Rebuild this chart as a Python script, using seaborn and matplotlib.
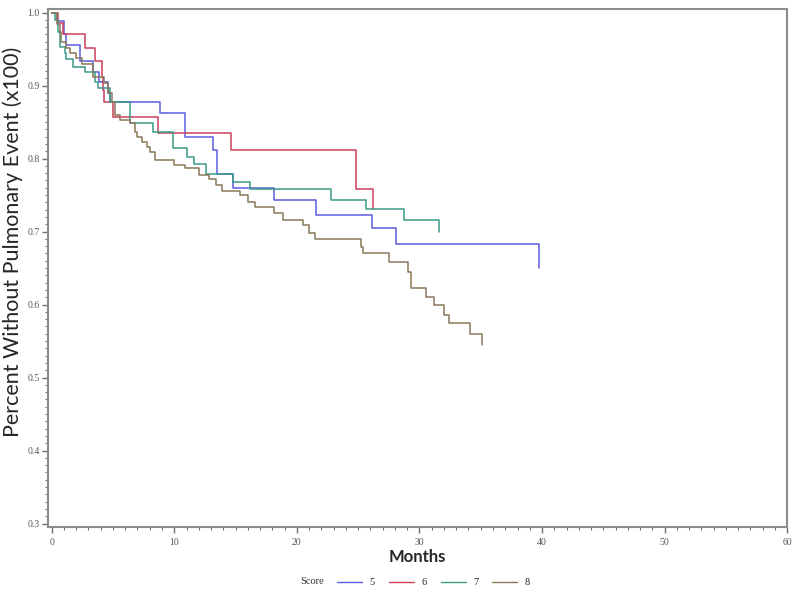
import numpy as np
import pandas as pd
import matplotlib
matplotlib.use('Agg')
import matplotlib.pyplot as plt
import seaborn as sns
from matplotlib.ticker import MultipleLocator
from matplotlib.lines import Line2D

# Kaplan-Meier style step curves
scores = ['5', '6', '7', '8']

t5 = [0, 0.4, 1.0, 1.2, 2.3, 3.4, 3.9, 4.6, 4.75, 8.85, 10.85, 13.2, 13.5, 14.8, 18.1, 21.6, 26.1, 28.1, 39.75]
s5 = [1.0, 0.988, 0.970, 0.956, 0.933, 0.919, 0.905, 0.890, 0.878, 0.863, 0.830, 0.812, 0.779, 0.760, 0.743, 0.723, 0.705, 0.683, 0.650]

t6 = [0, 0.5, 0.9, 2.7, 3.5, 4.1, 4.2, 4.3, 5.0, 8.7, 14.6, 24.8, 26.2]
s6 = [1.0, 0.985, 0.970, 0.952, 0.933, 0.912, 0.894, 0.877, 0.857, 0.835, 0.812, 0.758, 0.731]

t7 = [0, 0.25, 0.5, 0.65, 1.1, 1.2, 1.7, 2.7, 3.5, 3.8, 4.75, 6.4, 8.3, 9.9, 11.0, 11.6, 12.6, 14.8, 16.2, 22.8, 25.6, 28.7, 31.6]
s7 = [1.0, 0.990, 0.973, 0.953, 0.945, 0.936, 0.926, 0.918, 0.905, 0.897, 0.878, 0.849, 0.837, 0.815, 0.802, 0.793, 0.779, 0.768, 0.758, 0.743, 0.731, 0.716, 0.700]

t8 = [0, 0.4, 0.7, 0.8, 1.2, 1.5, 2.0, 2.5, 3.4, 4.3, 4.6, 4.9, 5.2, 5.6, 6.4, 6.8, 7.0, 7.4, 7.8, 8.0,
      8.4, 10.0, 10.9, 12.0, 12.8, 13.4, 13.9, 15.4, 16.0, 16.6, 18.1, 18.9, 20.5, 21.0, 21.5,
      25.2, 25.4, 27.5, 29.1, 29.3, 30.5, 31.2, 32.0, 32.4, 34.1, 35.1]
s8 = [1.0, 0.984, 0.973, 0.959, 0.952, 0.945, 0.938, 0.929, 0.912, 0.904, 0.890, 0.877, 0.860, 0.853, 0.849, 0.837, 0.830, 0.822, 0.816, 0.809,
      0.798, 0.791, 0.787, 0.778, 0.772, 0.764, 0.756, 0.750, 0.741, 0.734, 0.726, 0.716, 0.709, 0.698, 0.690,
      0.679, 0.671, 0.658, 0.645, 0.623, 0.610, 0.599, 0.586, 0.575, 0.560, 0.545]

colors = ['#5b5be0', '#cc3f5c', '#3a9a88', '#8a7858']

frames = []
for sc, t, s in zip(scores, [t5, t6, t7, t8], [s5, s6, s7, s8]):
    frames.append(pd.DataFrame({'months': t, 'surv': s, 'score': sc}))
data = pd.concat(frames, ignore_index=True)

sns.set_style("white")
fig = plt.figure(figsize=(8, 5.93), dpi=100)
ax = fig.add_axes([0.06, 0.111, 0.924, 0.874])

sns.lineplot(data=data, x='months', y='surv', hue='score', palette=colors,
             estimator=None, sort=False, drawstyle='steps-post', linewidth=1.1,
             legend=False, ax=ax)

ax.set_xlim(-0.3, 60)
ax.set_ylim(0.295, 1.005)
ax.xaxis.set_major_locator(MultipleLocator(10))
ax.xaxis.set_minor_locator(MultipleLocator(1))
ax.yaxis.set_major_locator(MultipleLocator(0.1))
ax.yaxis.set_minor_locator(MultipleLocator(0.01))
ax.yaxis.set_major_formatter(matplotlib.ticker.FormatStrFormatter('%.1f'))

for sp in ax.spines.values():
    sp.set_color('#8c8c8c')
    sp.set_linewidth(1.5)

ax.tick_params(axis='both', which='major', direction='out', length=4, width=1,
               color='#707070', labelsize=7, labelcolor='#555555', bottom=True, left=True)
ax.tick_params(axis='y', which='major', pad=2)
ax.tick_params(axis='both', which='minor', direction='out', length=2, width=0.8,
               color='#707070', bottom=True, left=True)
for lab in ax.get_xticklabels() + ax.get_yticklabels():
    lab.set_fontfamily('Liberation Serif')

ax.set_xlabel('Months', fontsize=12, fontweight='bold', fontfamily='Lato', labelpad=2)
ax.set_ylabel('')
fig.text(0.016, 1 - 242 / 593, 'Percent Without Pulmonary Event (x100)', rotation=90,
         fontsize=15.5, fontfamily='Lato', ha='center', va='center')

# legend along the bottom
fig.text(0.39, 0.012, 'Score', fontsize=7.5, fontfamily='Liberation Serif', color='#333333',
         va='bottom', ha='center')
handles = [Line2D([0], [0], color=c, linewidth=1.0) for c in colors]
fig.legend(handles, scores, loc='lower left', bbox_to_anchor=(0.41, -0.006), ncol=4, frameon=False,
           prop={'family': 'Liberation Serif', 'size': 7.5}, handlelength=2.4, columnspacing=1.35,
           handletextpad=0.7)

fig.savefig('out.png', dpi=100)
